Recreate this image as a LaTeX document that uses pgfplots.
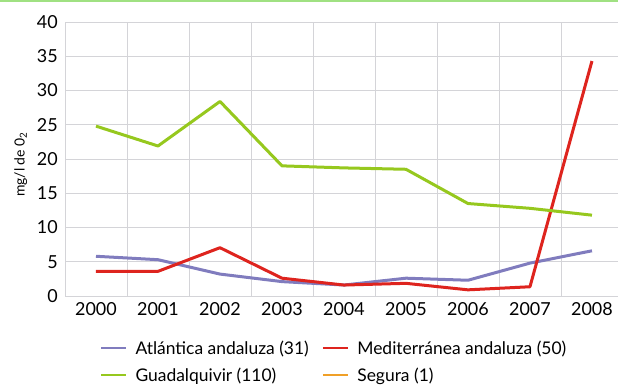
\documentclass[border=0pt]{standalone}
\usepackage{pgfplots}
\pgfplotsset{compat=1.18}
\usepackage{fontspec}
\setmainfont{Lato}
\definecolor{guad}{RGB}{150,200,30}
\definecolor{medit}{RGB}{222,36,30}
\definecolor{atlan}{RGB}{128,124,190}
\definecolor{segura}{RGB}{240,160,40}
\definecolor{gridc}{RGB}{212,212,216}
\definecolor{topline}{RGB}{160,225,130}
\begin{document}
\begin{tikzpicture}
\path[use as bounding box] (-65bp,-89bp) rectangle (553bp,296bp);
\draw[topline, line width=1.6bp] (-65bp,295.2bp) -- (553bp,295.2bp);
\begin{axis}[
    at={(0,0)}, anchor=south west,
    scale only axis,
    width=553bp, height=274bp,
    xmin=-0.5, xmax=8.42,
    ymin=0, ymax=40,
    axis line style={draw=none},
    major tick length=0pt, minor tick length=0pt,
    xtick={0,...,8},
    xticklabels={2000,2001,2002,2003,2004,2005,2006,2007,2008},
    minor xtick={-0.5,0.5,...,7.5},
    ytick={0,5,...,40},
    xminorgrids, ymajorgrids, xmajorgrids=false,
    grid style={gridc, line width=0.9bp},
    minor grid style={gridc, line width=0.9bp},
    /pgf/number format/assume math mode=true,
    ticklabel style={font=\fontsize{18}{20}\selectfont},
    yticklabel style={inner sep=0pt, xshift=-7bp},
    xticklabel style={inner sep=0pt, yshift=-6bp},
    ylabel={mg/l de 0\textsubscript{2}},
    ylabel style={at={(axis description cs:-0.08,0.48)}, anchor=center, font=\fontsize{14}{16}\selectfont},
    legend columns=2,
    legend cell align=left,
    legend style={at={(axis description cs:0.063,-0.162)}, anchor=north west,
        draw=none, fill=none, inner sep=0pt, font=\fontsize{17.5}{21}\selectfont,
        row sep=12bp,
        nodes={inner sep=0pt},
        /tikz/every odd column/.append style={column sep=0bp},
        /tikz/every even column/.append style={column sep=13bp}},
    legend image code/.code={\draw[#1, line width=2bp] (0bp,0bp) -- (25bp,0bp); \path (33bp,0bp);},
    every axis plot/.append style={line width=3bp, line join=round},
]
\addplot[atlan] coordinates {(0,5.8) (1,5.3) (2,3.2) (3,2.1) (4,1.6) (5,2.6) (6,2.3) (7,4.8) (8,6.6)};
\addlegendentry{Atlántica andaluza (31)}
\addplot[medit] coordinates {(0,3.6) (1,3.6) (2,7.05) (3,2.6) (4,1.6) (5,1.85) (6,0.9) (7,1.35) (8,34.3)};
\addlegendentry{Mediterránea andaluza (50)}
\addplot[guad] coordinates {(0,24.8) (1,21.9) (2,28.4) (3,19.0) (4,18.7) (5,18.5) (6,13.5) (7,12.8) (8,11.8)};
\addlegendentry{Guadalquivir (110)}
\addlegendimage{segura}
\addlegendentry{Segura (1)}
\end{axis}
\end{tikzpicture}
\end{document}
